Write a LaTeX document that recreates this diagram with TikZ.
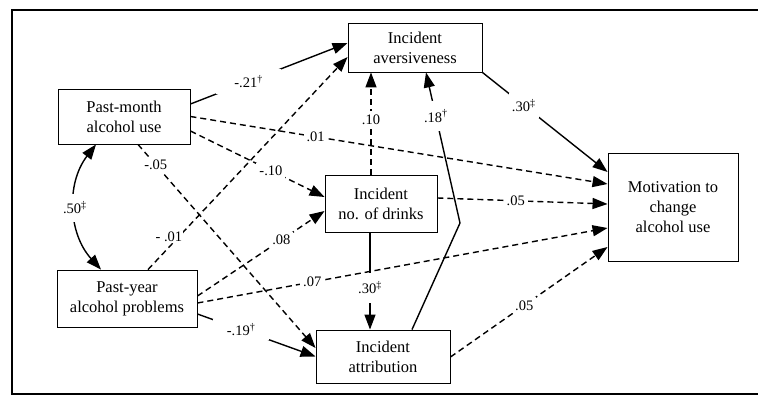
\documentclass[tikz,border=0pt]{standalone}
\usepackage{fontspec}
\setmainfont{Liberation Serif}
\usetikzlibrary{arrows.meta}

\tikzset{
  box/.style={draw, line width=0.9pt, align=center, inner sep=0pt,
    font=\fontsize{16.5}{20}\selectfont},
  lbl/.style={fill=white, inner sep=3pt, font=\fontsize{14.5}{17}\selectfont},
  headed/.style={-{Triangle[length=15pt,width=11pt]}},
  fullline/.style={line width=1.4pt, headed},
  dashline/.style={line width=1.4pt, dash pattern=on 6pt off 4pt, headed},
}
\newcommand{\dg}{\textsuperscript{\textdagger}}
\newcommand{\ddg}{\textsuperscript{\textdaggerdbl}}

\begin{document}
\begin{tikzpicture}[x=1pt, y=-1pt]
  \useasboundingbox (0,0) rectangle (758,399);
  % outer frame
  \draw[line width=1.6pt] (12,10) rectangle (762,394);

  % boxes, positions in pixels of the 758x399 figure
  \node[box, minimum width=132pt, minimum height=55pt] (pm) at (124,116.5) {Past-month\\alcohol use};
  \node[box, minimum width=140pt, minimum height=57pt] (py) at (127,298.5) {Past-year\\alcohol problems};
  \node[box, minimum width=134pt, minimum height=49pt] (ia) at (415,47.5) {Incident\\aversiveness};
  \node[box, minimum width=112pt, minimum height=57pt] (nd) at (381,203.5) {Incident\\no. of drinks};
  \node[box, minimum width=134pt, minimum height=53pt] (at) at (383,356.5) {Incident\\attribution};
  \node[box, minimum width=130pt, minimum height=108pt] (mo) at (673,207) {Motivation to\\change\\alcohol use};
  \coordinate (bend) at (460,223);

  % correlation of the two predictors
  \draw[line width=1.4pt, {Triangle[length=15pt,width=11pt]}-{Triangle[length=15pt,width=11pt]}]
    ([xshift=-28pt]pm.south) to[bend right=40]
    node[lbl, inner ysep=8pt] {.50\ddg} ([xshift=-26pt]py.north);

  % solid paths
  \draw[fullline] ([yshift=12.5pt]pm.east) --
    node[lbl, pos=0.37, inner xsep=18pt, inner ysep=6pt] {-.21\dg} ([yshift=4.5pt]ia.west);
  \draw[fullline] ([yshift=-15.5pt]py.east) --
    node[lbl, pos=0.37, inner xsep=14pt, inner ysep=4pt] {-.19\dg} (at.west);
  \draw[fullline] ([xshift=-11pt]nd.south) --
    node[lbl, pos=0.57, inner ysep=9pt] {.30\ddg} ([xshift=-11pt]nd.south |- at.north);
  \draw[fullline] (ia.south east) --
    node[lbl, pos=0.33, inner ysep=6pt] {.30\ddg} ([yshift=35pt]mo.west);
  \draw[fullline] ([xshift=29pt]at.north) -- (bend) --
    node[lbl, pos=0.71, inner ysep=9pt, inner xsep=2pt] {.18\dg} ([xshift=11pt]ia.south);

  % dashed paths
  \draw[dashline] (pm.east) -- node[lbl, pos=0.3] {.01} ([yshift=23pt]mo.west);
  \draw[dashline] ([yshift=-14.5pt]pm.east) -- node[lbl, pos=0.6] {-.10} ([yshift=6.5pt]nd.west);
  \draw[dashline] ([xshift=14pt]pm.south) -- node[lbl, pos=0.1] {-.05} ([yshift=8.5pt]at.west);
  \draw[dashline] ([xshift=21pt]py.north) --
    node[lbl, pos=0.155, xshift=-10pt, inner sep=1pt] {- .01} ([yshift=-9.5pt]ia.west);
  \draw[dashline] ([yshift=2.5pt]py.east) -- node[lbl, pos=0.66] {.08} ([yshift=-7.5pt]nd.west);
  \draw[dashline] ([yshift=-4.5pt]py.east) -- node[lbl, pos=0.28] {.07} ([yshift=-21pt]mo.west);
  \draw[dashline] ([xshift=-10pt]nd.north) --
    node[lbl, pos=0.54] {.10} ([xshift=-10pt]nd.north |- ia.south);
  \draw[dashline] ([yshift=5.5pt]nd.east) -- node[lbl, pos=0.46] {.05} ([yshift=3pt]mo.west);
  \draw[dashline] ([yshift=-0.5pt]at.east) -- node[lbl, pos=0.47] {.05} ([yshift=-40pt]mo.west);
\end{tikzpicture}
\end{document}
